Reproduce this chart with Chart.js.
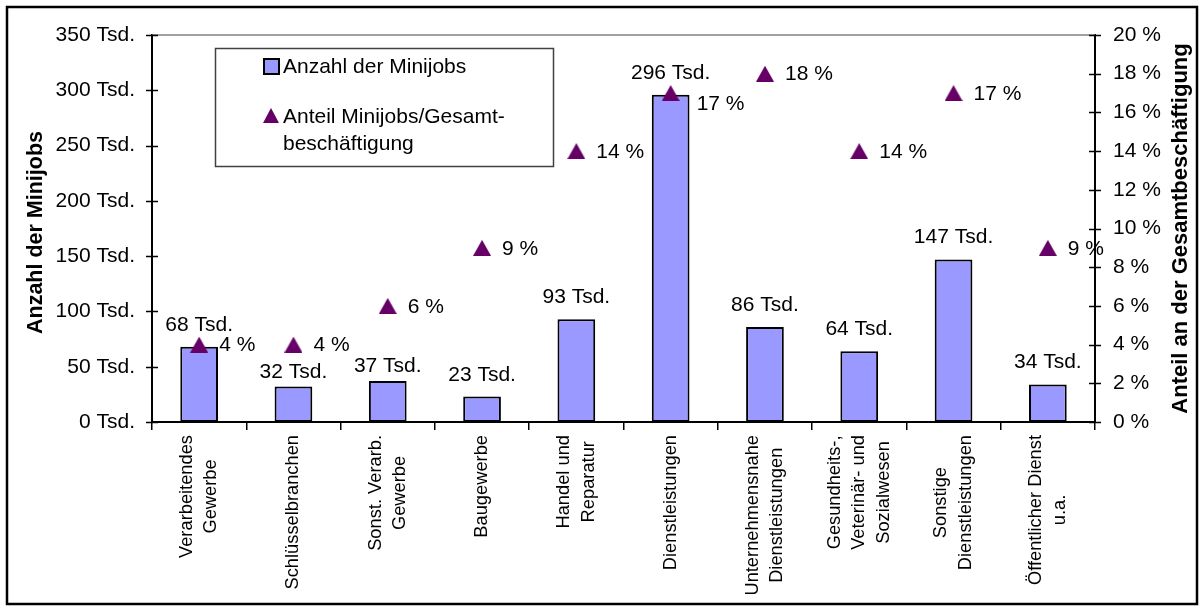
<!DOCTYPE html>
<html>
<head>
<meta charset="utf-8">
<script src="https://cdn.jsdelivr.net/npm/chart.js@4/dist/chart.umd.min.js"></script>
<style>
    html, body { margin: 0; padding: 0; background: #fff; }
    #wrap { width: 1204px; height: 610px; position: relative; }
</style>
</head>
<body>
<div id="wrap"><canvas id="minijobChart" width="1204" height="610"></canvas></div>
<script>
// Minijobs nach Branchen
const categories = [
    ['Verarbeitendes', 'Gewerbe'],
    ['Schlüsselbranchen'],
    ['Sonst. Verarb.', 'Gewerbe'],
    ['Baugewerbe'],
    ['Handel und', 'Reparatur'],
    ['Dienstleistungen'],
    ['Unternehmensnahe', 'Dienstleistungen'],
    ['Gesundheits-,', 'Veterinär- und', 'Sozialwesen'],
    ['Sonstige', 'Dienstleistungen'],
    ['Öffentlicher Dienst', 'u.a.']
];
const minijobs = [68, 32, 37, 23, 93, 296, 86, 64, 147, 34];   // Tsd.
const anteil = [4, 4, 6, 9, 14, 17, 18, 14, 17, 9];            // %
const leftTicks = [0, 50, 100, 150, 200, 250, 300, 350];
const rightTicks = [0, 2, 4, 6, 8, 10, 12, 14, 16, 18, 20];

const barLabel = 'Anzahl der Minijobs';
const pointLabel = ['Anteil Minijobs/Gesamt-', 'beschäftigung'];
const leftTitle = 'Anzahl der Minijobs';
const rightTitle = 'Anteil an der Gesamtbeschäftigung';

const FONT = '"Liberation Sans", Arial, sans-serif';
const BAR_COLOR = '#9999FF';
const TRI_COLOR = '#660066';

Chart.defaults.font.family = FONT;
Chart.defaults.color = '#000';

// small nudges Excel applied to a few labels
const barLabelNudge = { 1: 7, 2: 7 };
const pointLabelNudge = { 5: [6, 10] };

// Excel-style triangle marker, centred on its bounding box
function makeTriangle(w, h) {
    const c = document.createElement('canvas');
    c.width = w;
    c.height = h;
    const g = c.getContext('2d');
    g.fillStyle = TRI_COLOR;
    g.beginPath();
    g.moveTo(0, h);
    g.lineTo(w / 2, 0);
    g.lineTo(w, h);
    g.closePath();
    g.fill();
    return c;
}
const triangle = makeTriangle(18, 16);
const legendTriangle = makeTriangle(16, 15);

// Everything Chart.js doesn't draw the way Excel does
const decorPlugin = {
    id: 'decor',
    afterDatasetsDraw(chart) {
        const ctx = chart.ctx;
        const bars = chart.getDatasetMeta(0).data;
        const pts = chart.getDatasetMeta(1).data;
        ctx.save();
        ctx.fillStyle = '#000';
        ctx.font = '21px ' + FONT;

        // bar values
        ctx.textAlign = 'center';
        ctx.textBaseline = 'alphabetic';
        bars.forEach((bar, i) => {
            const dy = barLabelNudge[i] || 0;
            ctx.fillText(minijobs[i] + ' Tsd.', bar.x, bar.y - 16 + dy);
        });

        // share values
        ctx.textAlign = 'left';
        ctx.textBaseline = 'middle';
        pts.forEach((pt, i) => {
            const n = pointLabelNudge[i] || [0, 0];
            ctx.fillText(anteil[i] + ' %', pt.x + 20 + n[0], pt.y + 1 + n[1]);
        });
        ctx.restore();
    },
    afterDraw(chart) {
        const ctx = chart.ctx;
        const area = chart.chartArea;
        const xScale = chart.scales.x;
        const yL = chart.scales.y;
        const yR = chart.scales.y1;
        ctx.save();

        // outer frame
        ctx.strokeStyle = '#000';
        ctx.lineWidth = 2.5;
        ctx.strokeRect(7, 7, 1190, 597);

        // top edge of plot area
        ctx.strokeStyle = '#808080';
        ctx.lineWidth = 1.5;
        ctx.beginPath();
        ctx.moveTo(area.left, area.top);
        ctx.lineTo(area.right, area.top);
        ctx.stroke();

        // crossing tick marks on both value axes
        ctx.strokeStyle = '#000';
        ctx.lineWidth = 1.5;
        ctx.beginPath();
        leftTicks.forEach(v => {
            const py = Math.round(yL.getPixelForValue(v)) + 0.5;
            ctx.moveTo(area.left - 6, py);
            ctx.lineTo(area.left + 6, py);
        });
        rightTicks.forEach(v => {
            const py = Math.round(yR.getPixelForValue(v)) + 0.5;
            ctx.moveTo(area.right - 6, py);
            ctx.lineTo(area.right + 6, py);
        });
        ctx.stroke();

        // category labels, rotated, lines centred on each other
        ctx.fillStyle = '#000';
        ctx.font = '18.3px ' + FONT;
        ctx.textAlign = 'center';
        ctx.textBaseline = 'middle';
        categories.forEach((lines, i) => {
            const x = xScale.getPixelForValue(i);
            const w = Math.max(...lines.map(l => ctx.measureText(l).width));
            const cy = xScale.top + 13 + w / 2;
            lines.forEach((line, j) => {
                ctx.save();
                ctx.translate(x + (j - (lines.length - 1) / 2) * 24.5, cy);
                ctx.rotate(-Math.PI / 2);
                ctx.fillText(line, 0, 0);
                ctx.restore();
            });
        });

        // axis titles, both reading bottom to top
        const midY = (area.top + area.bottom) / 2;
        [[leftTitle, 36, 21.5, midY + 4], [rightTitle, 1181, 22, midY]].forEach(([txt, tx, size, ty]) => {
            ctx.save();
            ctx.font = 'bold ' + size + 'px ' + FONT;
            ctx.translate(tx, ty);
            ctx.rotate(-Math.PI / 2);
            ctx.fillText(txt, 0, 0);
            ctx.restore();
        });

        // legend box inside the plot
        ctx.strokeStyle = '#404040';
        ctx.lineWidth = 1.5;
        ctx.strokeRect(215.5, 48.5, 338, 118);
        ctx.fillStyle = BAR_COLOR;
        ctx.fillRect(264, 59, 15, 15);
        ctx.strokeStyle = '#000';
        ctx.lineWidth = 2;
        ctx.strokeRect(264, 59, 15, 15);
        ctx.drawImage(legendTriangle, 263, 108);
        ctx.fillStyle = '#000';
        ctx.font = '21px ' + FONT;
        ctx.textAlign = 'left';
        ctx.textBaseline = 'middle';
        ctx.fillText(barLabel, 283, 67);
        pointLabel.forEach((l, j) => ctx.fillText(l, 283, 117 + j * 27));

        ctx.restore();
    }
};

const ctx = document.getElementById('minijobChart').getContext('2d');
const minijobChart = new Chart(ctx, {
    data: {
        labels: categories,
        datasets: [{
            type: 'bar',
            label: barLabel,
            data: minijobs,
            yAxisID: 'y',
            backgroundColor: BAR_COLOR,
            borderColor: '#000',
            borderWidth: 2,
            borderSkipped: false,
            barPercentage: 0.4,
            categoryPercentage: 1,
            order: 2
        }, {
            type: 'line',
            label: pointLabel.join(''),
            data: anteil,
            yAxisID: 'y1',
            showLine: false,
            pointStyle: triangle,
            pointRadius: 10,
            pointBackgroundColor: TRI_COLOR,
            pointBorderColor: TRI_COLOR,
            order: 1
        }]
    },
    options: {
        responsive: false,
        animation: false,
        devicePixelRatio: 1,
        layout: { padding: { top: 35, left: 0, right: 0, bottom: 0 } },
        plugins: {
            legend: { display: false },
            tooltip: { enabled: false }
        },
        scales: {
            x: {
                offset: true,
                grid: {
                    display: true,
                    drawOnChartArea: false,
                    offset: true,
                    tickLength: 8,
                    color: '#000',
                    lineWidth: 1.5
                },
                border: { display: true, color: '#000', width: 2 },
                ticks: { display: false },
                afterFit: scale => { scale.height = 188; }
            },
            y: {
                position: 'left',
                min: 0,
                max: 350,
                grid: { display: false, drawTicks: false },
                border: { display: true, color: '#000', width: 2 },
                ticks: {
                    padding: 17,
                    font: { size: 21 },
                    callback: v => v + ' Tsd.'
                },
                afterBuildTicks: scale => { scale.ticks = leftTicks.map(v => ({ value: v })); },
                afterFit: scale => { scale.width = 152; }
            },
            y1: {
                position: 'right',
                min: 0,
                max: 20,
                grid: { display: false, drawTicks: false },
                border: { display: true, color: '#000', width: 2 },
                ticks: {
                    padding: 18,
                    font: { size: 21 },
                    callback: v => v + ' %'
                },
                afterBuildTicks: scale => { scale.ticks = rightTicks.map(v => ({ value: v })); },
                afterFit: scale => { scale.width = 109; }
            }
        }
    },
    plugins: [decorPlugin]
});
</script>
</body>
</html>
